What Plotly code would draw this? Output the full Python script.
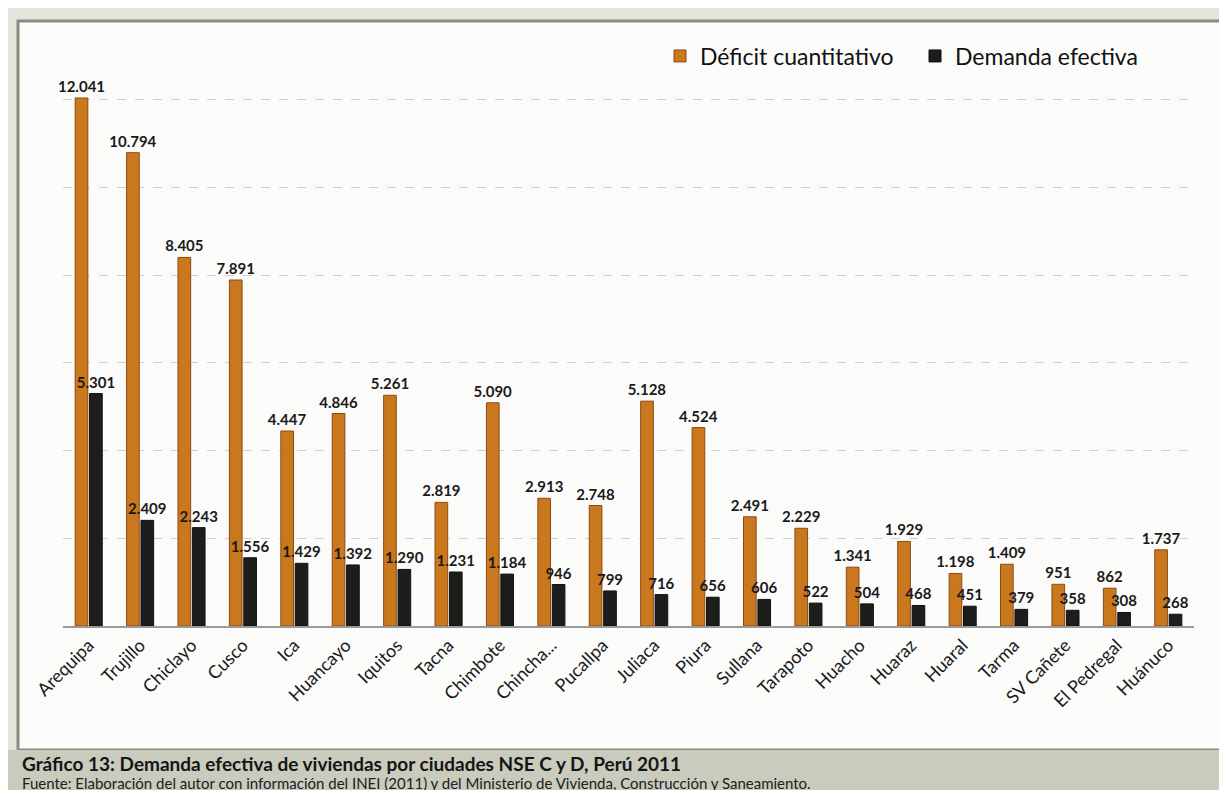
import plotly.graph_objects as go

# data
ciudades = ["Arequipa", "Trujillo", "Chiclayo", "Cusco", "Ica", "Huancayo", "Iquitos",
            "Tacna", "Chimbote", "Chincha...", "Pucallpa", "Juliaca", "Piura", "Sullana",
            "Tarapoto", "Huacho", "Huaraz", "Huaral", "Tarma", "SV Cañete", "El Pedregal",
            "Huánuco"]
deficit_cuantitativo = [12041, 10794, 8405, 7891, 4447, 4846, 5261, 2819, 5090, 2913, 2748,
                        5128, 4524, 2491, 2229, 1341, 1929, 1198, 1409, 951, 862, 1737]
demanda_efectiva = [5301, 2409, 2243, 1556, 1429, 1392, 1290, 1231, 1184, 946, 799,
                    716, 656, 606, 522, 504, 468, 451, 379, 358, 308, 268]

titulo = "Gráfico 13: Demanda efectiva de viviendas por ciudades NSE C y D, Perú 2011"
fuente = ("Fuente: Elaboración del autor con información del INEI (2011) y del Ministerio "
          "de Vivienda, Construcción y Saneamiento.")

W, H = 1227, 790
ML, MR, MT, MB = 55, 41, 40, 172
PW = W - ML - MR
PH = H - MT - MB


def px_x(px):
    # pixel x -> paper x
    return (px - ML) / PW


def px_y(py):
    # pixel y -> paper y
    return (H - MB - py) / PH


FONT = "Lato, 'Open Sans', sans-serif"

fig = go.Figure()

fig.add_trace(go.Bar(
    x=ciudades, y=deficit_cuantitativo, name="Déficit cuantitativo",
    marker=dict(color="#c9781e", line=dict(color="#8c4a12", width=1)),
    texttemplate="%{y:,}", textposition="outside", cliponaxis=False, constraintext="none",
    textfont=dict(size=15, color="#1a1a1a", family=FONT, weight="bold"),
))
fig.add_trace(go.Bar(
    x=ciudades, y=demanda_efectiva, name="Demanda efectiva",
    marker=dict(color="#1d1d1b", line=dict(color="#111", width=1)),
    texttemplate="%{y:,}", textposition="outside", cliponaxis=False, constraintext="none",
    textfont=dict(size=15, color="#1a1a1a", family=FONT, weight="bold"),
))

shapes = [
    # white chart card with grey frame
    dict(type="rect", xref="paper", yref="paper",
         x0=px_x(10), x1=px_x(1217), y0=px_y(742), y1=px_y(13),
         fillcolor="#fbfbfa", line=dict(color="#8f8a80", width=3), layer="below"),
    # caption band
    dict(type="rect", xref="paper", yref="paper",
         x0=px_x(0), x1=px_x(W), y0=px_y(H), y1=px_y(742),
         fillcolor="#c9cbbd", line=dict(width=0), layer="below"),
]

annotations = [
    dict(text="<b>" + titulo + "</b>", xref="paper", yref="paper",
         x=px_x(12), y=px_y(755), xanchor="left", yanchor="middle", showarrow=False,
         font=dict(size=19, color="#151515", family=FONT)),
    dict(text=fuente, xref="paper", yref="paper",
         x=px_x(12), y=px_y(775), xanchor="left", yanchor="middle", showarrow=False,
         font=dict(size=15, color="#202020", family=FONT)),
]

fig.update_layout(
    width=W, height=H,
    margin=dict(l=ML, r=MR, t=MT, b=MB),
    paper_bgcolor="#e4e4df", plot_bgcolor="rgba(0,0,0,0)",
    barmode="group", bargap=0.44, bargroupgap=0.12,
    separators=",.",
    font=dict(family=FONT, color="#1a1a1a"),
    showlegend=True,
    legend=dict(orientation="h", x=px_x(652), y=px_y(48), xanchor="left", yanchor="middle",
                font=dict(size=23, color="#111", family=FONT), bgcolor="rgba(0,0,0,0)",
                itemwidth=30, traceorder="normal", entrywidth=210, entrywidthmode="pixels"),
    shapes=shapes, annotations=annotations,
)

fig.update_xaxes(tickangle=-45, tickfont=dict(size=18, color="#1a1a1a", family=FONT),
                 showline=True, linecolor="#9a9a9a", linewidth=1.5, ticks="", showgrid=False)
fig.update_yaxes(range=[0, PH / 0.04385], showticklabels=False, ticks="",
                 dtick=2000, showgrid=True, gridcolor="#d0d0cc", griddash="dash",
                 gridwidth=1, zeroline=False, showline=False)

fig.write_html("out.html")
